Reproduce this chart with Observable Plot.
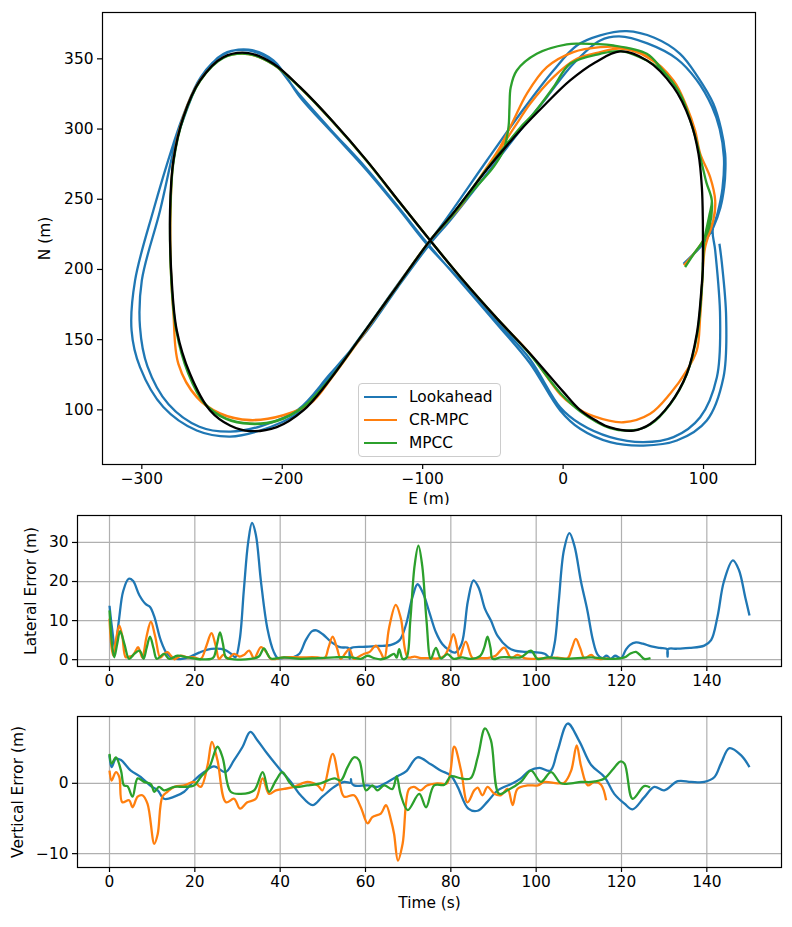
<!DOCTYPE html>
<html><head><meta charset="utf-8">
<script src="https://cdn.jsdelivr.net/npm/d3@7"></script>
<script src="https://cdn.jsdelivr.net/npm/@observablehq/plot@0.6"></script>
<style>
body{margin:0;background:#fff}
#fig{position:relative;width:792px;height:927px;font-family:"DejaVu Sans",sans-serif;background:#fff}
.legend{position:absolute;left:358px;top:383px;width:141px;height:72px;border:1px solid #cccccc;border-radius:4px;background:rgba(255,255,255,0.8);font-family:"DejaVu Sans",sans-serif;font-size:15.4px}
.legend .row{position:absolute;left:0;height:20px;width:140px}
.legend .sw{position:absolute;left:5px;top:9px;width:33px;height:2.3px}
.legend .lb{position:absolute;left:50px;top:0;line-height:20px;color:#000}
</style>
</head><body><div id="fig"></div>
<script>
// ---------- data: trajectories (E, N in metres) ----------
const seriesNames = ["Lookahead", "CR-MPC", "MPCC"];
const seriesColors = ["#1f77b4", "#ff7f0e", "#2ca02c"];

const referencePath = [
[99.5,200],[99.5,235],[98.8,258.6],[96.4,282.4],[90.5,306],[78.6,329.8],[59.6,348.9],[40.6,355.3],[22.8,347.4],[5,334.6],[-12.8,317.5],[-30.6,299],[-54.3,271.2],[-78.1,240.3],[-94.7,220.7],[-118,188.3],[-140,157.7],[-168.3,118.6],[-185,99.6],[-203.9,87.7],[-222.9,84.9],[-237.2,88.9],[-251.4,99.6],[-265.7,125.7],[-275.1,156.6],[-278.7,192.2],[-279.9,242],[-277.5,277.6],[-270.4,308.5],[-258.5,334.6],[-242,351.2],[-224.1,354.1],[-206.3,346.5],[-187.3,329.8],[-163.6,305],[-139.8,277.5],[-116.1,247.5],[-94.7,220.7],[-72,193.2],[-47,165],[-23.5,140],[0,113],[12,100],[24,92],[33.5,87.5],[50.1,85.3],[62,90],[76.2,104.3],[88.1,125.7],[95.2,154.2],[98.8,189.8],[99.5,200]
];

const lookaheadPath = [
[85.7,204],[92,210],[97.6,215.9],[103,223],[107,230.1],[112,244],[114.7,258.6],[115.6,272],[115.4,282.4],[112.5,300],[107,318],[96,337],[83.3,353.6],[65,365],[45.3,369.7],[26.4,366.7],[9.8,359.5],[-6.9,341.7],[-30.6,310.9],[-54.3,277.6],[-84,234.9],[-95.5,219.5],[-118,189],[-140,158],[-166,123.3],[-189.7,97.2],[-215.8,85.3],[-237.2,81],[-260.9,85.3],[-284.7,102],[-301.3,130.4],[-307.3,156.6],[-304.8,192.2],[-291.8,242],[-277.5,289.5],[-270,311],[-258,337],[-242,353],[-224.1,356.5],[-206.3,348.9],[-187.3,322.7],[-163.6,296.6],[-139.8,270.5],[-116.1,242],[-97,218],[-72,191],[-47.2,163],[-23.5,136],[-2.1,101.9],[12.1,90.1],[33.5,80.6],[57.2,77],[78.6,80.6],[97.6,94.8],[109.5,123.3],[111.8,166],[108.3,213.5],[106.5,228],
[110,240],[113.5,258],[114.5,280],[111.5,300],[106,316],[95,335],[81,350],[60,361],[40,366],[26.4,363.1],[7.3,346.5],[-11.6,322.7],[-30.6,299],[-54.3,268.2],[-80.5,234.9],[-95,218],[-118,187],[-140,156],[-166,125.5],[-189,100],[-215,88.5],[-237,84.5],[-259,88],[-281,104],[-296,131],[-301.3,158.9],[-300,192.2],[-287,242],[-276,290],[-269,311],[-258,336],[-242,353.5],[-224.1,356],[-208,349],[-189,326],[-165,299],[-141,273],[-117,244],[-97,219],[-72,190],[-47,161],[-23.5,133],[-2.1,99.6],[12.1,86.5],[33.5,77],[57.2,74.6],[81,78.2],[102.3,92.5],[114.2,123.3],[116.1,166],[113,205],[111.3,218.3]
];

const crmpcPath = [
[86,203],[93,211],[100,221],[106.9,234.9],[108.3,249],[104.7,265.7],[97.6,282.6],[94,299],[88.1,315.7],[78.6,334.6],[59.6,351.4],[40.6,357.2],[26.4,354.8],[9.8,350],[-6.9,337],[-23.5,318],[-33,303.8],[-54.3,271.8],[-78,240],[-94.7,220.7],[-118,188.3],[-140,157],[-165,122.5],[-180.2,104.3],[-199.2,96],[-222.9,92.5],[-244.3,97.2],[-260.9,109],[-274,132.8],[-277.5,168.4],[-279.3,200],[-279.5,242],[-277.5,278],[-270.6,308.5],[-258.7,334.4],[-242,351],[-224.1,353.3],[-206.3,346],[-187.3,329.5],[-163.6,304.7],[-139.8,277.3],[-116.1,247.3],[-94.7,220.7],[-72,193.2],[-47,165],[-23.5,140],[-2,111],[7.3,103],[21.6,95.5],[42.9,91.2],[62,97.2],[76.2,111.5],[88,128],[95.2,142.3],[97.6,166],[99,190],[101,215],
[106.9,234.9],[108.3,249],[104.7,265.7],[97.6,282.6],[94,299],[88.1,315.7],[78.6,334.6],[59.6,352],[40.6,358.3],[26.4,358.3],[7.3,354.8],[-11.6,344.1],[-25.9,325.1],[-35.4,306.1],[-44.9,287.1],[-59.1,265.7],[-73.4,244.4],[-94.7,220.7],[-118,188.5],[-140,157.2],[-165,122.8],[-180.2,104.6],[-199.2,96.3],[-222.9,92.8],[-244.3,97.5],[-260.9,109.3],[-274,133],[-277.5,168.6],[-279.3,200],[-279.5,242],[-277.5,278],[-270.6,308.5],[-258.7,334.4],[-242,351],[-224.1,353.3],[-206.3,346],[-187.3,329.5],[-163.6,304.7],[-139.8,277.3],[-116.1,247.3],[-94.7,220.7],[-72,193.2],[-47,165],[-23.5,140],[-2,111],[7.3,103],[21.6,95.5],[42.9,91.2],[62,97.2],[76.2,111.5],[88,128],[95.2,142.3],[97.6,166],[99.3,195]
];

const mpccPath = [
[86.9,201.7],[93,211],[99.9,220.7],[104,230],[105.9,249.1],[102,262],[98.8,275.3],[92.8,299],[83.3,325.1],[70,342],[55,351],[40.6,355.5],[26.4,353.6],[5,346.5],[-6.9,329.8],[-21.1,310.9],[-30.6,301],[-54.3,271.5],[-78.1,240.2],[-94.7,220.7],[-118,188.3],[-140,157.7],[-168,119.5],[-185,102],[-204,92],[-223,90],[-240,93.5],[-255,104],[-267,126],[-275.5,156.6],[-279,192],[-279.7,242],[-277.3,277.6],[-270.2,308.5],[-258.4,334.4],[-242,350.6],[-224.1,353.4],[-206.3,346],[-187.3,329.5],[-163.6,304.7],[-139.8,277.3],[-116.1,247.3],[-94.7,220.7],[-72,193.2],[-47,165],[-23.5,139.5],[-2,112],[12.1,99],[33.5,87],[50.1,85.5],[62,89.5],[76.2,104],[88.1,125.5],[95.5,154],[99,190],[100.5,220],
[104,238],[105.9,249.1],[102,262],[98.8,275.3],[92.8,299],[83.3,325.1],[70,343],[59.6,353.6],[35.8,359.5],[12.1,360.8],[2.6,360.3],[-18.8,353.6],[-33,341.7],[-37.3,329.8],[-38.2,315.6],[-38.9,301.4],[-42.5,284.8],[-49.6,272.9],[-66.2,253.9],[-80,237],[-94.7,220.7],[-118,188.3],[-140,157.7],[-168,119.8],[-185,102.3],[-204,92.3],[-223,90.3],[-240,93.8],[-255,104.3],[-267,126.3],[-275.5,156.8],[-279,192],[-279.7,242],[-277.3,277.6],[-270.2,308.5],[-258.4,334.4],[-242,350.6],[-224.1,353.4],[-206.3,346],[-187.3,329.5],[-163.6,304.7],[-139.8,277.3],[-116.1,247.3],[-94.7,220.7],[-72,193.2],[-47,165],[-23.5,139.5],[-2,112],[12.1,99],[33.5,87],[50.1,85.5],[62,89.5],[76.2,104],[88.1,125.5],[95.5,154],[99,190],[99.5,205]
];

// ---------- data: lateral error (t s, metres) ----------
const lateralLookahead = [
[0,13.8],[0.6,8],[1.3,3],[2.2,10],[3.2,17.5],[4.5,20.7],[5.5,20.2],[7,16.5],[8.5,14.2],[9.5,13.5],[10.5,11],[12,5],[13.5,1.5],[15,0.3],[17,0.2],[19,0.8],[21,1.8],[23,2.6],[25,2.8],[27,2.5],[28.5,1.5],[29.5,0.6],[30.5,5],[31.5,18],[32.5,30],[33.4,35],[34.3,32],[35.5,20],[37,8],[38.5,2],[39.5,0.3],[41,0.5],[43,0.6],[44.5,1.5],[46,5],[47.5,7.3],[48.5,7.5],[50,6.5],[52,4.5],[54,3.2],[56.1,2.9],[56.3,0.3],[56.5,2.9],[60,3.3],[63,3.5],[66,3.8],[68,5],[69.5,9],[71,16],[72.2,19.3],[73.5,17],[75,12],[76.5,7],[78,4],[79.5,2.5],[81,1.8],[82.5,4],[84,15],[85.3,20.3],[86.5,18.5],[88,13],[89.4,10],[91,6],[93.3,3.2],[95,2.3],[97.2,2],[99.6,1.9],[102,1.5],[103.3,0.5],[104.3,4],[105.3,15],[106.5,28],[107.8,32.4],[109,29],[110.5,20],[112,12.6],[113.3,5],[114.4,1.3],[115.5,0.4],[116.5,1],[117.5,0.2],[118.5,1],[119.9,0.4],[121,2.5],[122,3.8],[123.4,4.4],[125,4.1],[127,3.4],[129,3],[130.7,2.7],[130.8,0.8],[130.9,2.7],[133,2.8],[136,3],[139.4,3.6],[141,5],[142.5,11],[144,20],[146.1,25.4],[147.5,23],[149,16],[150,11.3]
];
const lateralCRMPC = [
[0,10.5],[0.5,3],[0.9,1],[1.5,5],[2.3,8.7],[3,6],[3.8,0.6],[4.6,0.8],[5.4,1],[6,2],[6.7,3.2],[7.2,2],[7.7,0.5],[8.7,6],[9.7,9.7],[10.7,6],[11.9,0.5],[12.8,1.5],[13.6,1.9],[14.4,1],[15.2,0.1],[16.7,1],[18.3,0.6],[19.8,0.6],[21.4,0.2],[22.7,3.5],[23.9,6.8],[24.9,3.5],[25.7,0.2],[26.7,1.3],[27.7,0.2],[29.2,1.5],[30.5,0.8],[31.5,1.2],[32.7,2.3],[33.9,0.4],[35.5,3.2],[36.7,2],[37.8,0.2],[40.9,0.6],[44.8,0.6],[48.8,0.6],[50.5,0.5],[51.3,3],[52.3,5.9],[53.3,3],[54.2,0.2],[55.2,1.5],[56.2,2.7],[57.3,0.2],[58.5,0.8],[59.7,1.5],[61,2],[62.4,3.6],[63.5,2],[64.4,0.2],[65.5,8],[67.1,14],[68.3,10.5],[69.9,0.6],[71.5,0.8],[73,0.4],[75.3,0.4],[76.9,0.3],[78.5,1],[79.5,3],[80.6,6.5],[81.5,3],[82,0.4],[83.5,4.6],[85.1,0.4],[87,0.4],[88.6,0.4],[90.5,1],[92.5,3.1],[94.1,0.4],[95.6,1.2],[97.2,0.4],[99,0.2],[101,0.3],[103,0.4],[105,0.5],[107.4,0.4],[108.4,3],[109.3,5.3],[110.3,3],[111.3,0.4],[112.9,1.2],[114,0.3],[116.1,0.2],[117,0.3]
];
const lateralMPCC = [
[0,12.6],[0.5,5],[1.1,0.6],[1.8,4],[2.5,7.3],[3.5,4],[4.6,0.2],[5.8,1.5],[7,2.3],[7.5,1.5],[8,0.2],[8.7,3],[9.5,5.9],[10.3,3],[11.1,0.2],[12.8,1.5],[14,0.2],[15.9,1],[18.3,0.6],[21.4,0.1],[23.8,0.2],[24.5,0.8],[25.2,4],[25.9,7],[26.6,4],[27.3,0.6],[29.2,0.1],[33.1,0.2],[35,0.8],[36.2,2.9],[37,1.5],[37.8,0.3],[40.9,0.6],[44.8,0.2],[48.8,0.4],[52.7,0.6],[56.6,0.6],[58.9,0.2],[60.5,1],[62,0.4],[63.6,0.1],[65.2,0.6],[66.7,1.5],[67.3,0.5],[67.9,2.7],[68.7,0.2],[69.6,0.5],[70.5,10],[71.5,24],[72.4,29.2],[73.3,24],[74.3,10],[75.3,0.2],[76.5,3],[77.7,0.3],[79.2,1.4],[80.7,0.2],[82.6,0.6],[84.6,0.2],[86.9,1],[87.8,3],[88.6,5.9],[89.3,3],[89.8,0.2],[91.7,0.6],[94.1,0.6],[96.4,0.6],[98.8,2.3],[100.3,0.2],[102.7,0.6],[106.6,0.2],[112.9,0.6],[116.8,0.2],[120.7,0.6],[122,1.5],[123.4,2],[124.5,1],[125.3,0.2],[126.8,0.4]
];

// ---------- data: vertical error (t s, metres) ----------
const verticalLookahead = [
[0,4],[0.5,2.3],[1.5,3.5],[2.7,3.3],[5,1.8],[7.3,0.9],[9.7,-0.4],[11.3,-1],[12.8,-2.2],[15.2,-1.9],[17.5,-1.2],[19.8,0.4],[22.2,1.6],[24.5,2.4],[27.2,1.6],[29.2,3.3],[31.2,5.2],[33,7.3],[34.7,6.1],[37,4.2],[40.2,1.8],[42.5,0.2],[44.8,-1.7],[47.6,-3.1],[49.9,-1.9],[52.7,-0.5],[55,0.2],[56.5,0.1],[56.6,0.6],[56.7,0.1],[57.3,-0.3],[60.5,-0.3],[62.8,-0.5],[65.2,0.2],[67.5,1],[69.5,1.7],[72.2,3.7],[75.3,2.7],[77.7,1.8],[80,1.1],[81.6,-0.5],[84.1,-3.6],[86.3,-3.9],[88.6,-2.6],[91,-1],[94.5,0],[96.4,0.7],[98.4,1.8],[100.8,2.2],[103.3,1.8],[105,4.6],[107.4,8.5],[110.1,6],[112.9,2.6],[116,0.9],[118.3,-1.5],[120.7,-2.9],[122.6,-3.7],[125.3,-2],[127.7,-0.5],[130,-1],[133.2,0.3],[136.3,0.2],[139.4,0.2],[141.8,0.9],[143.3,2.8],[145.3,5],[148,4],[150,2.3]
];
const verticalCRMPC = [
[0,1.8],[0.5,0.4],[1.5,1.6],[2.3,0.9],[3,-2.7],[4.6,-2.4],[5.4,-3.4],[6.6,-1.9],[7.7,-1.7],[8.9,-2.9],[10.5,-8.6],[11.3,-7.2],[12.4,-1.9],[13.6,-1.2],[15.2,-0.5],[17.5,-0.3],[19.8,0.2],[21.4,-0.5],[23,2.6],[24,5.9],[25.3,3.3],[27.3,-2.7],[29.2,-2.2],[30.6,-3.6],[32.3,-2.7],[34.3,-2.2],[35.9,0.7],[37.4,-1.5],[39,-1],[40.9,-0.8],[43.3,-0.5],[46.4,0.2],[48.8,-0.3],[49.9,-1],[52.3,4.2],[53.8,0.4],[55,-1.9],[57.3,-1.7],[58.9,-3.4],[60.5,-5.7],[61.6,-4.8],[63.6,-4.3],[64.8,-3.1],[66,-5.3],[66.7,-7.2],[67.6,-11],[68.7,-8.6],[70.2,-0.8],[71.4,-0.5],[72.9,-1],[74.4,-0.3],[76.8,0],[79.1,0],[80.8,5.2],[82.4,1.8],[83.9,-2.7],[85.5,-1],[86.3,-0.6],[87.4,-1.7],[88.6,-0.5],[90.2,-1.5],[91.7,-1.7],[93.3,-0.8],[94.5,-3.1],[95.6,-0.8],[98,-0.3],[100.4,-0.3],[101.9,0.2],[105,0],[106.6,0.1],[108.2,1.8],[109.5,5.4],[110.5,2.5],[112.1,-0.3],[113.6,0.2],[115.2,-0.2],[116.4,-2.4]
];
const verticalMPCC = [
[0,4.2],[0.5,2.8],[1.5,3.7],[2.7,1.8],[3.4,-0.3],[4.2,-0.4],[5.4,-1.9],[6.6,0.7],[8.1,0.2],[9.7,-0.1],[10.5,-1.2],[11.6,-0.5],[12.8,-1],[15.2,-0.5],[17.5,-0.5],[19.8,-0.3],[21.4,0.9],[23.4,2.3],[25.3,5.2],[26.5,3.7],[28.4,-1.2],[30.8,-1.5],[33.9,-1],[35.9,1.6],[37.4,-1.2],[39,0.4],[40.5,1.6],[42.1,0.2],[43.3,-0.5],[46.4,-0.3],[49.5,0],[52.7,0.7],[54.2,0.4],[55.8,2.3],[57.3,3.7],[58.5,3.3],[60.1,-1],[61.6,-0.3],[62.8,-1],[64.4,-0.3],[66.3,-0.8],[67.3,1],[68.2,-1.5],[69.9,-3.8],[72.6,-1.5],[74.2,-3.4],[76.1,-0.3],[78.5,-0.2],[80,1],[82.4,0.7],[84.6,0.7],[86.3,3.7],[88,7.8],[89.4,6.1],[91.3,-1.5],[93.3,-1],[96.4,0.2],[98.8,1.8],[101.1,0.2],[103.5,1.6],[105.8,0],[108.2,0],[110.5,0.2],[112.9,0.2],[116,0.7],[118,2],[119.7,3.1],[120.7,2.8],[122.6,-2.2],[125.3,-0.4],[126.7,-0.6]
];

// ---------- tick values ----------
const eTicks = [-300, -200, -100, 0, 100];
const nTicks = [100, 150, 200, 250, 300, 350];
const timeTicks = [0, 20, 40, 60, 80, 100, 120, 140];
const lateralTicks = [0, 10, 20, 30];
const verticalTicks = [-10, 0];

// ---------- rendering ----------
const FS = "15.4px";
const fmt = d => d < 0 ? "\u2212" + Math.abs(d) : String(d);
const baseStyle = {fontFamily: '"DejaVu Sans", sans-serif', fontSize: FS, color: "black", background: "white", overflow: "visible"};
const LW = 2.3;
const fig = document.getElementById("fig");

function place(svg, topPx) {
  svg.style.position = "absolute";
  svg.style.left = "0px";
  svg.style.top = topPx + "px";
  fig.appendChild(svg);
}
function pathLine(arr, color, w) {
  return Plot.line(arr, {x: d => d[0], y: d => d[1], stroke: color, strokeWidth: w, curve: "catmull-rom", strokeLinejoin: "round", strokeLinecap: "butt"});
}
function axes(xt, yt) {
  return [
    Plot.axisX(xt, {anchor: "bottom", tickSize: 5, tickPadding: 4, tickFormat: fmt, strokeWidth: 1.2, label: null}),
    Plot.axisY(yt, {anchor: "left", tickSize: 5, tickPadding: 4, tickFormat: fmt, strokeWidth: 1.2, label: null})
  ];
}
function xLabel(t, dy) { return Plot.text([t], {frameAnchor: "bottom", dy, text: d => d, fontSize: 15.4, fill: "black"}); }
function yLabel(t, dx) { return Plot.text([t], {frameAnchor: "left", dx, rotate: -90, textAnchor: "middle", text: d => d, fontSize: 15.4, fill: "black"}); }

// Top: trajectories
const pathPlot = Plot.plot({
  width: 792, height: 512, marginLeft: 102, marginRight: 37, marginTop: 12, marginBottom: 48,
  x: {domain: [-328, 137], label: null}, y: {domain: [61.1, 383], label: null},
  style: baseStyle,
  marks: [
    pathLine(lookaheadPath, seriesColors[0], LW),
    pathLine(crmpcPath, seriesColors[1], LW),
    pathLine(mpccPath, seriesColors[2], LW),
    pathLine(referencePath, "black", LW),
    Plot.frame({stroke: "black", strokeWidth: 1.2}),
    ...axes(eTicks, nTicks),
    xLabel("E (m)", 39),
    yLabel("N (m)", -57)
  ]
});
place(pathPlot, 0);

// Middle: lateral error
const latPlot = Plot.plot({
  width: 792, height: 191, marginLeft: 77, marginRight: 11, marginTop: 10, marginBottom: 30,
  x: {domain: [-7.5, 157.5], label: null}, y: {domain: [-1.75, 36.9], label: null},
  style: baseStyle,
  marks: [
    Plot.gridX(timeTicks, {stroke: "#b0b0b0", strokeOpacity: 1, strokeWidth: 1.2}),
    Plot.gridY(lateralTicks, {stroke: "#b0b0b0", strokeOpacity: 1, strokeWidth: 1.2}),
    pathLine(lateralLookahead, seriesColors[0], LW),
    pathLine(lateralCRMPC, seriesColors[1], LW),
    pathLine(lateralMPCC, seriesColors[2], LW),
    Plot.frame({stroke: "black", strokeWidth: 1.2}),
    ...axes(timeTicks, lateralTicks),
    yLabel("Lateral Error (m)", -46)
  ]
});
place(latPlot, 505);

// Bottom: vertical error
const vertPlot = Plot.plot({
  width: 792, height: 231, marginLeft: 77, marginRight: 11, marginTop: 20, marginBottom: 60,
  x: {domain: [-7.5, 157.5], label: null}, y: {domain: [-11.97, 9.5], label: null},
  style: baseStyle,
  marks: [
    Plot.gridX(timeTicks, {stroke: "#b0b0b0", strokeOpacity: 1, strokeWidth: 1.2}),
    Plot.gridY(verticalTicks, {stroke: "#b0b0b0", strokeOpacity: 1, strokeWidth: 1.2}),
    pathLine(verticalLookahead, seriesColors[0], LW),
    pathLine(verticalCRMPC, seriesColors[1], LW),
    pathLine(verticalMPCC, seriesColors[2], LW),
    Plot.frame({stroke: "black", strokeWidth: 1.2}),
    ...axes(timeTicks, verticalTicks),
    xLabel("Time (s)", 40),
    yLabel("Vertical Error (m)", -59)
  ]
});
place(vertPlot, 696);

// Legend (top panel)
const leg = document.createElement("div");
leg.className = "legend";
seriesNames.forEach((name, i) => {
  const row = document.createElement("div");
  row.className = "row";
  row.style.top = (2.5 + i * 23) + "px";
  const sw = document.createElement("div");
  sw.className = "sw";
  sw.style.background = seriesColors[i];
  const lb = document.createElement("div");
  lb.className = "lb";
  lb.textContent = name;
  row.appendChild(sw); row.appendChild(lb);
  leg.appendChild(row);
});
fig.appendChild(leg);
</script>
</body></html>
